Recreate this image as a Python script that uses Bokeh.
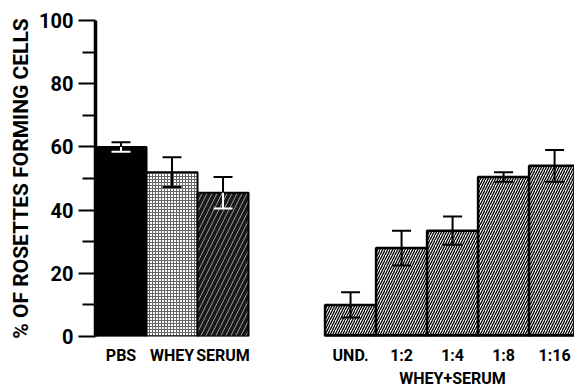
from bokeh.plotting import figure
from bokeh.models import Range1d, FixedTicker, LinearAxis, ColumnDataSource
from bokeh.embed import file_html
from bokeh.resources import INLINE

# ---- data ----
left_labels = ["PBS", "WHEY", "SERUM"]
left_values = [60, 52, 45.5]
left_errors = [1.5, 4.7, 5.0]

right_labels = ["UND.", "1:2", "1:4", "1:8", "1:16"]
right_values = [10, 28, 33.5, 50.5, 54]
right_errors = [4, 5.5, 4.5, 1.5, 5]
right_group_label = "WHEY+SERUM"

y_ticks = [0, 20, 40, 60, 80, 100]
y_minor = [10, 30, 50, 70, 90]
y_title = "% OF ROSETTES FORMING CELLS"

FONT = "Roboto"

# positions in half-bar units (bar width = 2)
left_x = [2 * i for i in range(len(left_labels))]
right_x = [9 + 2 * i for i in range(len(right_labels))]

p = figure(width=574, height=392, output_backend="svg", toolbar_location=None,
           x_range=Range1d(-1, 17.78), y_range=Range1d(0, 100),
           min_border_left=95, min_border_right=0, min_border_top=20,
           min_border_bottom=56, x_axis_type=None, y_axis_type=None)
p.outline_line_color = None
p.grid.visible = False
p.background_fill_color = "white"
p.border_fill_color = "white"

# left bars
p.vbar(x=[left_x[0]], top=[left_values[0]], width=2, fill_color="black",
       line_color="black", line_width=2)
p.vbar(x=[left_x[1]], top=[left_values[1]], width=2, fill_color="white",
       hatch_pattern="+", hatch_scale=3, hatch_weight=1, hatch_color="#666666",
       line_color="black", line_width=2)
p.vbar(x=[left_x[2]], top=[left_values[2]], width=2, fill_color="#1a1a1a",
       hatch_pattern="/", hatch_scale=10, hatch_weight=1, hatch_color="#999999",
       line_color="black", line_width=2)

# right bars
p.vbar(x=right_x, top=right_values, width=2, fill_color="white",
       hatch_pattern="/", hatch_scale=5, hatch_weight=1.3, hatch_color="black",
       line_color="black", line_width=2.5)
p.line(x=[right_x[0] - 1, right_x[-1] + 1], y=[0, 0], line_color="black", line_width=5)

# error bars
all_x = left_x + right_x
all_v = left_values + right_values
all_e = left_errors + right_errors
low_colors = ["white", "black", "white"] + ["black"] * len(right_x)
up = ColumnDataSource(dict(x=all_x, y0=all_v, y1=[v + e for v, e in zip(all_v, all_e)]))
lo = ColumnDataSource(dict(x=all_x, y0=all_v, y1=[v - e for v, e in zip(all_v, all_e)], c=low_colors))
p.segment(x0="x", x1="x", y0="y0", y1="y1", source=up, line_color="black", line_width=2)
p.scatter(x="x", y="y1", source=up, marker="dash", size=19, line_color="black", line_width=2)
p.segment(x0="x", x1="x", y0="y0", y1="y1", source=lo, line_color="c", line_width=2)
p.scatter(x="x", y="y1", source=lo, marker="dash", size=19, line_color="c", line_width=2)

# y axis
ya = LinearAxis(ticker=FixedTicker(ticks=y_ticks, minor_ticks=y_minor))
ya.axis_line_width = 3.5
ya.major_tick_line_width = 2
ya.minor_tick_line_width = 2
ya.major_tick_out = 17
ya.major_tick_in = 0
ya.minor_tick_out = 13
ya.minor_tick_in = 0
ya.major_label_standoff = 5
ya.major_label_text_font = FONT
ya.major_label_text_font_style = "bold"
ya.major_label_text_font_size = "20px"
ya.major_label_text_color = "black"
ya.axis_label = y_title
ya.axis_label_text_font = FONT
ya.axis_label_text_font_style = "bold"
ya.axis_label_text_font_size = "21px"
ya.axis_label_text_color = "black"
ya.axis_label_standoff = 3
p.add_layout(ya, "left")

# x axis (category labels)
xa = LinearAxis(ticker=FixedTicker(ticks=all_x, minor_ticks=[]))
xa.major_label_overrides = {x: lab for x, lab in zip(all_x, left_labels + right_labels)}
xa.axis_line_color = None
xa.major_tick_line_color = None
xa.major_tick_out = 0
xa.major_tick_in = 0
xa.major_label_standoff = 9
xa.major_label_text_font = FONT
xa.major_label_text_font_style = "bold"
xa.major_label_text_font_size = "16px"
xa.major_label_text_color = "black"
p.add_layout(xa, "below")

# group label axis
gx = sum(right_x) / len(right_x)
ga = LinearAxis(ticker=FixedTicker(ticks=[gx], minor_ticks=[]))
ga.major_label_overrides = {gx: right_group_label}
ga.axis_line_color = None
ga.major_tick_line_color = None
ga.major_tick_out = 0
ga.major_tick_in = 0
ga.major_label_standoff = 1
ga.major_label_text_font = FONT
ga.major_label_text_font_style = "bold"
ga.major_label_text_font_size = "16px"
ga.major_label_text_color = "black"
p.add_layout(ga, "below")

open("out.html", "w").write(file_html(p, INLINE))
